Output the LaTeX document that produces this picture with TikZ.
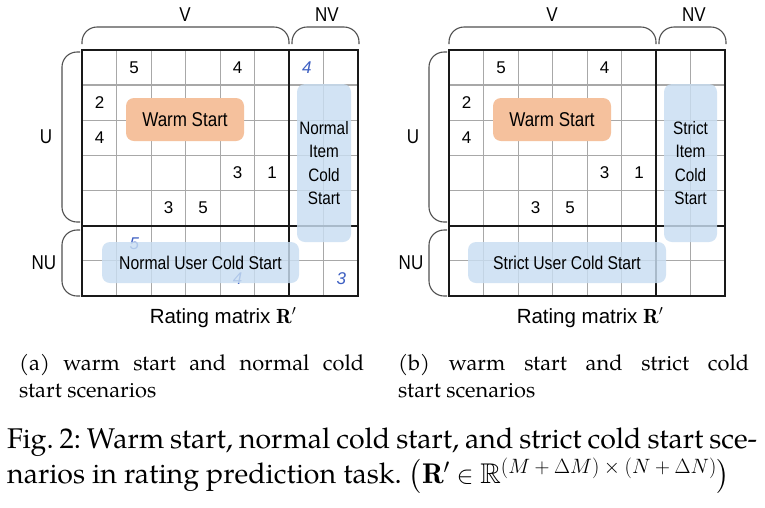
\documentclass[tikz,border=0pt]{standalone}
\usepackage{fontspec}
\usepackage{amssymb}
\newfontfamily\dsans[FakeStretch=0.85]{Liberation Sans}
\newfontfamily\nsans{Liberation Sans}
\newfontfamily\palfont{TeX Gyre Pagella}
\newcommand\sbin[1]{\mskip\medmuskip{#1}\mskip\medmuskip}
\definecolor{gridgray}{HTML}{A8A8A8}
\definecolor{warm}{HTML}{F5C19D}
\definecolor{coldblue}{HTML}{C9DEF2}
\definecolor{numblue}{HTML}{3D5FC2}
\definecolor{bracegray}{HTML}{505050}
\begin{document}
\begin{tikzpicture}[x=1pt,y=-1pt,
  thingrid/.style={draw=gridgray, line width=1.3pt},
  thickgrid/.style={draw=black!90, line width=2.3pt, line cap=rect},
  num/.style={inner sep=0pt, font=\nsans\fontsize{17}{17}\selectfont},
  bnum/.style={inner sep=0pt, text=numblue, font=\nsans\itshape\fontsize{17}{17}\selectfont},
  bracestyle/.style={draw=bracegray, line width=1.1pt, rounded corners=15pt},
  axlabel/.style={inner sep=0pt, font=\dsans\fontsize{20}{20}\selectfont},
  warmbox/.style={fill=warm, rounded corners=8pt, inner sep=0pt, minimum width=118pt, minimum height=43pt, font=\dsans\fontsize{20}{24}\selectfont},
  coldbox/.style={fill=coldblue, fill opacity=0.82, text opacity=1, rounded corners=8pt, inner sep=0pt},
  usertext/.style={minimum width=197pt, minimum height=41pt, font=\dsans\fontsize{18.5}{22}\selectfont},
  itemtext/.style={minimum width=54pt, minimum height=158pt, align=center, font=\dsans\fontsize{18}{23.4}\selectfont},
  mtxlabel/.style={anchor=base, inner sep=0pt, font=\nsans\fontsize{20.5}{24}\selectfont},
  capbox/.style={anchor=base west, inner sep=0pt}
]
\useasboundingbox (0,0) rectangle (765,507);
\fill[white] (0,0) rectangle (765,507);

\foreach \p/\dx in {a/0,b/367} {
  \begin{scope}[shift={(82.3+\dx,50)}]
    \foreach \i in {1,...,7} \draw[thingrid] (\i*34.5,0) -- (\i*34.5,246);
    \foreach \j in {1,...,6} \draw[thingrid] (0,\j*35.14) -- (276,\j*35.14);
    \draw[thickgrid] (207,0) -- (207,246);
    \draw[thickgrid] (0,175.7) -- (276,175.7);
    \draw[thickgrid] (0,0) rectangle (276,246);
    \foreach \c/\r/\v in {2/1/5, 5/1/4, 1/2/2, 1/3/4, 5/4/3, 6/4/1, 3/5/3, 4/5/5}
      \node[num] (\p-n\c\r) at ({(\c-0.5)*34.5},{(\r-0.5)*35.14}) {\v};
  \end{scope}
  % brackets over column and row groups
  \coordinate (\p-vl) at (82+\dx,44);
  \coordinate (\p-vr) at (289+\dx,44);
  \coordinate (\p-nvl) at (292+\dx,44);
  \coordinate (\p-nvr) at (359+\dx,44);
  \coordinate (\p-ut) at (80+\dx,52);
  \coordinate (\p-ub) at (80+\dx,222);
  \coordinate (\p-nut) at (80+\dx,230);
  \coordinate (\p-nub) at (80+\dx,296);
  \draw[bracestyle] (\p-vl) -- ++(0,-17) -| (\p-vr);
  \draw[bracestyle] (\p-nvl) -- ++(0,-17) -| (\p-nvr);
  \draw[bracestyle] (\p-ut) -- ++(-18,0) |- (\p-ub);
  \draw[bracestyle] (\p-nut) -- ++(-18,0) |- (\p-nub);
  \node[axlabel] (\p-V) at (185+\dx,15) {V};
  \node[axlabel] (\p-NV) at (327+\dx,15) {NV};
  \node[axlabel] (\p-U) at (46+\dx,137) {U};
  \node[axlabel] (\p-NU) at (44+\dx,263) {NU};
  \node[warmbox] (\p-warm) at (185+\dx,119.5) {Warm Start};
  \node[mtxlabel] (\p-mtx) at (223+\dx,323) {Rating matrix $\mathbf{R}'$};
}

% blue (unknown) ratings in panel a
\node[bnum] (a-b71) at (306.8,67.6) {4};
\node[bnum] (a-b26) at (134.3,244) {5};
\node[bnum] (a-b57) at (237.6,279) {4};
\node[bnum] (a-b87) at (341.3,279) {3};

% cold start regions
\node[coldbox, itemtext] (a-item) at (324,163) {Normal\\Item\\Cold\\Start};
\node[coldbox, usertext] (a-user) at (200.5,262.5) {Normal User Cold Start};
\node[coldbox, itemtext, minimum width=53pt] (b-item) at (690.5,163) {Strict\\Item\\Cold\\Start};
\node[coldbox, usertext, minimum width=198pt] (b-user) at (567,262.5) {Strict User Cold Start};

% captions
\node[capbox] (capa) at (19,370) {\parbox[t]{345pt}{\palfont\frenchspacing\fontsize{21.8}{27.7}\selectfont (a) warm start and normal cold\linebreak start scenarios}};
\node[capbox] (capb) at (398,370) {\parbox[t]{351pt}{\palfont\frenchspacing\fontsize{21.8}{27.7}\selectfont (b) warm start and strict cold\linebreak start scenarios}};
\node[capbox] (capmain) at (7,448) {\parbox[t]{750pt}{\palfont\frenchspacing\fontsize{28.5}{35}\selectfont Fig. 2: Warm start, normal cold start, and strict cold start sce-\linebreak narios in rating prediction task. $\left(\mathbf{R}'\in\mathbb{R}^{(M\sbin{+}\Delta M)\sbin{\times}(N\sbin{+}\Delta N)}\right)$}};
\end{tikzpicture}
\end{document}
